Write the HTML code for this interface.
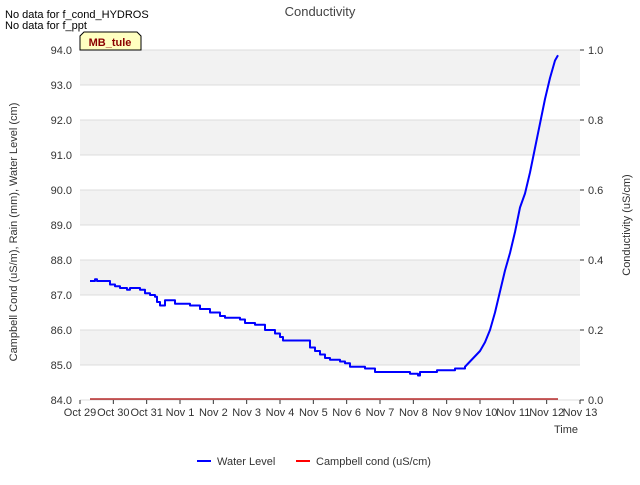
<!DOCTYPE html>
<html><head><meta charset="utf-8"><style>
body{margin:0;background:#fff;font-family:"Liberation Sans",sans-serif}
svg text{font-family:"Liberation Sans",sans-serif}
</style></head><body>
<svg id="c" width="640" height="480" viewBox="0 0 640 480">
<text x="5" y="18" font-size="11">No data for f_cond_HYDROS</text>
<text x="5" y="29" font-size="11">No data for f_ppt</text>
<text x="320" y="16" font-size="13" fill="#444" text-anchor="middle">Conductivity</text>
<g id="grid"></g>
<g id="axes"></g>
<g id="series"></g>
<g>
<path d="M80,50 L80,36 L84,32 L137,32 L141,36 L141,50 Z" fill="#ffffc0" stroke="#000" stroke-width="1"/>
<text x="110" y="46" font-size="11" font-weight="bold" fill="#8b0000" text-anchor="middle">MB_tule</text>
</g>
<text x="17" y="232" font-size="11" fill="#333" text-anchor="middle" transform="rotate(-90 17 232)">Campbell Cond (uS/m), Rain (mm), Water Level (cm)</text>
<text x="630" y="225" font-size="11" fill="#333" text-anchor="middle" transform="rotate(-90 630 225)">Conductivity (uS/cm)</text>
<text x="578" y="433" font-size="11" fill="#333" text-anchor="end">Time</text>
<g><line x1="197" y1="461" x2="211" y2="461" stroke="#0000ff" stroke-width="2"/><text x="217" y="465" font-size="11" fill="#333">Water Level</text></g>
<g><line x1="296" y1="461" x2="310" y2="461" stroke="#ff0000" stroke-width="2"/><text x="316" y="465" font-size="11" fill="#333">Campbell cond (uS/cm)</text></g>
</svg>
<script>
const xTickLabels=["Oct 29","Oct 30","Oct 31","Nov 1","Nov 2","Nov 3","Nov 4","Nov 5","Nov 6","Nov 7","Nov 8","Nov 9","Nov 10","Nov 11","Nov 12","Nov 13"];
const yTicksLeft=[84,85,86,87,88,89,90,91,92,93,94];
const yTicksRight=[0,0.2,0.4,0.6,0.8,1.0];
const wlDays=[0.30,0.45,0.51,0.81,0.90,1.05,1.20,1.41,1.50,1.80,1.95,2.10,2.25,2.31,2.40,2.46,2.55,2.70,2.85,3.30,3.60,3.90,4.20,4.35,4.80,4.95,5.25,5.55,5.85,6.00,6.09,6.75,6.90,7.05,7.20,7.35,7.50,7.80,7.95,8.10,8.55,8.85,9.90,10.14,10.20,10.71,11.25,11.55,11.70,11.85,12.00,12.15,12.30,12.45,12.60,12.75,12.90,13.05,13.20,13.35,13.50,13.65,13.80,13.95,14.10,14.25,14.34];
const wlValues=[87.4,87.45,87.4,87.4,87.3,87.25,87.2,87.15,87.2,87.15,87.05,87.0,86.95,86.8,86.7,86.7,86.85,86.85,86.75,86.7,86.6,86.5,86.4,86.35,86.3,86.2,86.15,86.0,85.9,85.8,85.7,85.7,85.5,85.4,85.3,85.2,85.15,85.1,85.05,84.95,84.9,84.8,84.75,84.7,84.8,84.85,84.9,84.95,85.1,85.25,85.4,85.65,86.0,86.5,87.1,87.7,88.2,88.8,89.5,89.9,90.5,91.2,91.9,92.6,93.2,93.7,93.85];
const condDays=[0.3,14.34];
const condValues=[0,0];
const X0=80,X1=580,Y0=400,Y1=50;
const xs=d=>X0+d*(X1-X0)/15;
const yl=v=>Y0-(v-84)*(Y0-Y1)/10;
const yr=v=>Y0-v*(Y0-Y1);
const NS="http://www.w3.org/2000/svg";
function mk(t,a,p){const e=document.createElementNS(NS,t);for(const k in a)e.setAttribute(k,a[k]);p.appendChild(e);return e;}
const grid=document.getElementById('grid'),axes=document.getElementById('axes'),ser=document.getElementById('series');
for(let i=0;i<yTicksLeft.length-1;i++){
 const r=mk('rect',{x:X0,y:yl(yTicksLeft[i+1]),width:X1-X0,height:yl(yTicksLeft[i])-yl(yTicksLeft[i+1]),fill:i%2==1?'#f2f2f2':'#ffffff'},grid);
 
 
}
yTicksLeft.forEach(v=>{
 const l=mk('line',{x1:X0,x2:X1,y1:yl(v),y2:yl(v),stroke:'#dcdcdc'},grid);
 
 
 const t=mk('text',{x:X0-8,y:yl(v)+4,'font-size':11,fill:'#333','text-anchor':'end'},axes);
 t.textContent=v.toFixed(1);
 
 
});
yTicksRight.forEach(v=>{
 mk('line',{x1:X1,x2:X1+4,y1:yr(v),y2:yr(v),stroke:'#333'},axes);
 const t=mk('text',{x:X1+8,y:yr(v)+4,'font-size':11,fill:'#333'},axes);
 t.textContent=v.toFixed(1);
 
 
});
xTickLabels.forEach((s,i)=>{
 mk('line',{x1:xs(i),x2:xs(i),y1:Y0,y2:Y0+4,stroke:'#333'},axes);
 const t=mk('text',{x:xs(i),y:Y0+16,'font-size':11,fill:'#333','text-anchor':'middle'},axes);
 t.textContent=s;
 
 
});
let d='';
wlDays.forEach((dd,i)=>{const x=xs(dd),y=yl(wlValues[i]);if(i==0)d='M'+x+','+y;else if(dd>11.6)d+=' L'+x+','+y;else d+=' H'+x+' V'+y;});
const wl=mk('path',{d:d,fill:'none',stroke:'#0000ff','stroke-width':2,'stroke-linejoin':'round'},ser);


const cd=condDays.map((dd,i)=>(i?'L':'M')+xs(dd)+','+(yr(condValues[i])-1)).join(' ');
const cl=mk('path',{d:cd,fill:'none',stroke:'#aa0000','stroke-width':1.2},ser);


</script>
</body></html>
